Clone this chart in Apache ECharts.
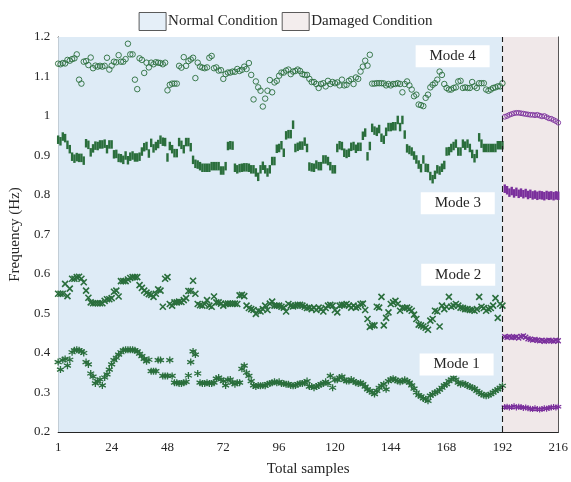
<!DOCTYPE html>
<html>
<head>
<meta charset="utf-8">
<style>
  html, body { margin: 0; padding: 0; background: #fff; }
  #chart { width: 571px; height: 482px; }
</style>
<script src="https://cdn.jsdelivr.net/npm/echarts@6/dist/echarts.min.js"></script>
</head>
<body>
<div id="chart"></div>
<script>
// Natural frequencies identified over the monitoring campaign (Hz)
const xTicks = [1, 24, 48, 72, 96, 120, 144, 168, 192, 216];
const lastNormalSample = 192;

const mode4Normal = [
  1.1325, 1.131, 1.134, 1.133, 1.142, 1.14, 1.144, 1.146, 1.156, 1.092,
  1.082, 1.1375, 1.139, 1.129, 1.148, 1.121, 1.1275, 1.125, 1.127, 1.125,
  1.127, 1.1475, 1.1175, 1.1275, 1.1375, 1.136, 1.154, 1.1375, 1.1375, 1.144,
  1.183, 1.156, 1.156, 1.092, 1.068, 1.146, 1.142, 1.109, 1.135, 1.123,
  1.135, 1.131, 1.136, 1.135, 1.134, 1.131, 1.135, 1.065, 1.079, 1.082,
  1.082, 1.082, 1.127, 1.1225, 1.149, 1.127, 1.139, 1.143,
  1.1475, 1.096, 1.135, 1.125, 1.1225, 1.121, 1.123, 1.1475, 1.152, 1.121,
  1.123, 1.115, 1.116, 1.094, 1.106, 1.11, 1.11, 1.1125, 1.112, 1.119,
  1.114, 1.117, 1.125, 1.119, 1.134, 1.104, 1.042, 1.0875, 1.0725, 1.064,
  1.024, 1.044, 1.064, 1.091, 1.06, 1.085, 1.089, 1.102, 1.11, 1.11,
  1.115, 1.1175, 1.106, 1.1125, 1.114, 1.1175, 1.114, 1.106, 1.104, 1.104,
  1.094, 1.086, 1.086, 1.081, 1.071, 1.081, 1.083, 1.075, 1.089, 1.081,
  1.086, 1.083, 1.085, 1.0775, 1.092, 1.0775, 1.079, 1.089, 1.093, 1.081,
  1.0975, 1.094, 1.1125, 1.125, 1.14, 1.1275, 1.155, 1.082, 1.082,
  1.083, 1.083, 1.083, 1.0825, 1.0775, 1.081, 1.0775, 1.081, 1.081, 1.083,
  1.081, 1.06, 1.081, 1.0875, 1.0775, 1.067, 1.05, 1.054, 1.029, 1.0275,
  1.025, 1.046, 1.054, 1.0725, 1.079, 1.083, 1.092, 1.1125, 1.104, 1.081,
  1.071, 1.067, 1.067, 1.071, 1.0725, 1.0875, 1.089, 1.071, 1.0725, 1.071,
  1.071, 1.086, 1.075, 1.071, 1.083, 1.083, 1.083, 1.067, 1.064, 1.067,
  1.071, 1.0725, 1.075, 1.075, 1.083
];
const mode4Damaged = [
  0.998, 1.0, 1.003, 1.005, 1.007, 1.008, 1.008, 1.007, 1.006, 1.005, 1.004, 1.003,
  1.003, 1.002, 1.003, 1.001, 0.999, 1.0, 0.997, 0.994, 0.993, 0.99, 0.987, 0.983
];

const mode3Normal = [
  0.94, 0.936, 0.948, 0.944, 0.927, 0.916, 0.897, 0.892, 0.896, 0.894,
  0.894, 0.887, 0.931, 0.927, 0.908, 0.918, 0.925, 0.924, 0.928, 0.928,
  0.93, 0.916, 0.928, 0.928, 0.903, 0.904, 0.894, 0.893, 0.889, 0.9,
  0.888, 0.897, 0.9, 0.895, 0.895, 0.897, 0.91, 0.921, 0.924, 0.905,
  0.932, 0.918, 0.924, 0.929, 0.94, 0.935, 0.934, 0.895, 0.924, 0.916,
  0.906, 0.906, 0.934, 0.927, 0.916, 0.934, 0.934, 0.921, 0.889, 0.879,
  0.877, 0.873, 0.869, 0.869, 0.869, 0.869, 0.873, 0.873, 0.873, 0.873,
  0.862, 0.862, 0.873, 0.924, 0.926, 0.925, 0.869, 0.865, 0.868, 0.869,
  0.87, 0.87, 0.869, 0.865, 0.865, 0.857, 0.846, 0.865, 0.874, 0.865,
  0.857, 0.865, 0.886, 0.886, 0.917, 0.919, 0.926, 0.907, 0.951, 0.954,
  0.954, 0.978, 0.919, 0.922, 0.925, 0.925, 0.935, 0.919, 0.872, 0.87,
  0.869, 0.877, 0.873, 0.873, 0.89, 0.89, 0.886, 0.873, 0.865, 0.865,
  0.919, 0.926, 0.924, 0.907, 0.904, 0.907, 0.922, 0.924, 0.917, 0.922,
  0.922, 0.95, 0.958, 0.898, 0.924, 0.97, 0.963, 0.96, 0.967, 0.945,
  0.94, 0.96, 0.972, 0.972, 0.974, 0.974, 0.99, 0.972, 0.99, 0.953,
  0.918, 0.914, 0.91, 0.9, 0.89, 0.877, 0.868, 0.89, 0.869, 0.868,
  0.848, 0.84, 0.851, 0.865, 0.862, 0.869, 0.876, 0.91, 0.911, 0.919,
  0.924, 0.93, 0.91, 0.91, 0.93, 0.925, 0.93, 0.919, 0.904, 0.893,
  0.904, 0.946, 0.93, 0.919, 0.919, 0.919, 0.919, 0.919, 0.919, 0.926,
  0.926, 0.926
];
const mode3Damaged = [
  0.816, 0.812, 0.806, 0.81, 0.804, 0.808, 0.803, 0.806, 0.802, 0.805, 0.8, 0.803,
  0.799, 0.801, 0.798, 0.8, 0.799, 0.797, 0.8, 0.798, 0.799, 0.797, 0.799, 0.798
];

const mode2Normal = [
  0.55, 0.55, 0.55, 0.575, 0.544, 0.563, 0.588, 0.588, 0.592, 0.593,
  0.588, 0.579, 0.558, 0.54, 0.528, 0.526, 0.526, 0.526, 0.526, 0.526,
  0.532, 0.536, 0.536, 0.539, 0.555, 0.558, 0.543, 0.582, 0.582, 0.582,
  0.586, 0.59, 0.592, 0.592, 0.592, 0.572, 0.565, 0.558, 0.553, 0.549,
  0.547, 0.542, 0.55, 0.561, 0.558, 0.517, 0.588, 0.592, 0.524, 0.52,
  0.528, 0.528, 0.53, 0.529, 0.534, 0.539, 0.557,
  0.557, 0.583, 0.55, 0.524, 0.521, 0.52, 0.524, 0.534, 0.52, 0.517,
  0.543, 0.528, 0.528, 0.525, 0.52, 0.524, 0.525, 0.525, 0.525, 0.525,
  0.524, 0.546, 0.547, 0.544, 0.52, 0.514, 0.511, 0.509, 0.499, 0.507,
  0.505, 0.511, 0.52, 0.509, 0.525, 0.53, 0.52, 0.52, 0.52, 0.517,
  0.515, 0.505, 0.524, 0.52, 0.518, 0.52, 0.522, 0.522, 0.52, 0.517,
  0.514, 0.515, 0.511, 0.515, 0.509, 0.515, 0.511, 0.505, 0.514, 0.52,
  0.522, 0.52, 0.509, 0.503, 0.52, 0.522, 0.522, 0.524, 0.52, 0.515,
  0.52, 0.515, 0.517, 0.524, 0.525, 0.509, 0.486, 0.466, 0.47, 0.47,
  0.517, 0.515, 0.542, 0.47, 0.489,
  0.503, 0.524, 0.528, 0.532, 0.524, 0.507, 0.515, 0.514, 0.515, 0.511,
  0.507, 0.497, 0.486, 0.472, 0.47, 0.467, 0.464, 0.459, 0.482, 0.486,
  0.507, 0.505, 0.467, 0.52, 0.511, 0.517, 0.542, 0.517, 0.52, 0.524,
  0.52, 0.515, 0.514, 0.511, 0.511, 0.509, 0.509, 0.507, 0.511, 0.542,
  0.517, 0.514, 0.507, 0.511, 0.514, 0.52, 0.539, 0.489, 0.524, 0.52
];
const mode2Damaged = [
  0.441, 0.44, 0.442, 0.439, 0.44, 0.441, 0.438, 0.442, 0.443, 0.44, 0.436, 0.435,
  0.433, 0.434, 0.432, 0.431, 0.432, 0.43, 0.431, 0.432, 0.431, 0.43, 0.432, 0.431
];

const mode1Normal = [
  0.377, 0.358, 0.382, 0.385, 0.368, 0.383, 0.402, 0.407, 0.408, 0.407,
  0.404, 0.4, 0.377, 0.371, 0.348, 0.34, 0.323, 0.329, 0.333, 0.318,
  0.338, 0.346, 0.358, 0.371, 0.382, 0.388, 0.396, 0.402, 0.407, 0.408,
  0.408, 0.408, 0.408, 0.407, 0.404, 0.398, 0.392, 0.385, 0.379, 0.383,
  0.354, 0.354, 0.354, 0.382, 0.382, 0.342, 0.342, 0.342, 0.382, 0.342,
  0.325, 0.325, 0.323, 0.323, 0.325, 0.327, 0.343,
  0.377, 0.404, 0.396, 0.348, 0.325, 0.323, 0.323, 0.325, 0.323, 0.323,
  0.325, 0.335, 0.338, 0.333, 0.329, 0.318, 0.332, 0.333, 0.325, 0.321,
  0.325, 0.325, 0.36, 0.368, 0.35, 0.342, 0.329, 0.318, 0.315, 0.318,
  0.317, 0.318, 0.317, 0.321, 0.323, 0.325, 0.327, 0.325, 0.327, 0.323,
  0.323, 0.321, 0.321, 0.318, 0.317, 0.318, 0.321, 0.323, 0.323, 0.325,
  0.329, 0.315, 0.315, 0.312, 0.315, 0.318, 0.321, 0.323, 0.327, 0.323,
  0.342, 0.312, 0.332, 0.332, 0.338, 0.34, 0.332, 0.329, 0.329, 0.333,
  0.329, 0.325, 0.323, 0.325, 0.321, 0.315, 0.308, 0.304, 0.3, 0.296,
  0.304, 0.312, 0.317, 0.321, 0.308,
  0.329, 0.333, 0.335, 0.332, 0.329, 0.327, 0.329, 0.332, 0.329, 0.325,
  0.318, 0.31, 0.3, 0.293, 0.29, 0.285, 0.283, 0.279, 0.292, 0.296,
  0.3, 0.302, 0.307, 0.312, 0.318, 0.321, 0.329, 0.333, 0.338, 0.333,
  0.325, 0.321, 0.323, 0.321, 0.317, 0.315, 0.312, 0.31, 0.304, 0.3,
  0.296, 0.293, 0.292, 0.293, 0.296, 0.3, 0.304, 0.308, 0.312, 0.317
];
const mode1Damaged = [
  0.263, 0.264, 0.262, 0.263, 0.265, 0.262, 0.264, 0.263, 0.261, 0.262, 0.26, 0.259,
  0.258, 0.26, 0.258, 0.257, 0.258, 0.26, 0.259, 0.261, 0.262, 0.263, 0.262, 0.264
];

const modeLabels = ['Mode 1', 'Mode 2', 'Mode 3', 'Mode 4'];

// ---- styling ----
const FONT = 'Liberation Serif';
const TXT = '#262626';
const GREEN = '#2a6e3c';
const PURPLE = '#7a2f9c';
const NORMAL_BG = '#deebf6';
const DAMAGED_BG = '#f0e8e9';

const CROSS = 'path://M0,0L10,10M10,0L0,10';
const ASTERISK = 'path://M5,0L5,10M0.67,2.5L9.33,7.5M0.67,7.5L9.33,2.5';

const normalPts = vals => vals.map((v, i) => [i + 1, v]);
const damagedPts = vals => vals.map((v, i) => [lastNormalSample + 1 + i, v]);

function circles(data, color, size) {
  return { type: 'scatter', data, symbol: 'circle', symbolSize: size, z: 3,
    itemStyle: { color: 'rgba(0,0,0,0)', borderColor: color, borderWidth: 0.9, opacity: 1 } };
}
function bars(data, color) {
  return { type: 'scatter', data, symbol: 'rect', symbolSize: [2.4, 8.5], z: 3,
    itemStyle: { color, opacity: 1 } };
}
function strokes(data, color, symbol, size, width) {
  return { type: 'scatter', data, symbol, symbolSize: size, z: 3,
    itemStyle: { color: 'rgba(0,0,0,0)', borderColor: color, borderWidth: width, opacity: 1 } };
}

function modeBox(text, x, y) {
  return {
    coord: [x, y], value: text, symbol: 'rect', symbolSize: [74, 22],
    itemStyle: { color: '#ffffff' },
    label: { show: true, position: 'inside', formatter: text, color: TXT, fontFamily: FONT, fontSize: 15 }
  };
}

const chart = echarts.init(document.getElementById('chart'), null, { renderer: 'canvas' });

const axisCommon = {
  axisLine: { show: true, onZero: false, lineStyle: { color: TXT, width: 1 } },
  splitLine: { show: false }
};

chart.setOption({
  animation: false,
  backgroundColor: '#ffffff',
  textStyle: { fontFamily: FONT },
  grid: { left: 55, top: 37, width: 509, height: 401, containLabel: false },
  legend: {
    left: 'center', top: 7, itemWidth: 27, itemHeight: 18, itemGap: 4,
    selectedMode: false,
    textStyle: { fontFamily: FONT, fontSize: 15, color: TXT, padding: [0, 0, 0, -3] },
    data: [
      { name: 'Normal Condition', icon: 'rect', itemStyle: { color: NORMAL_BG, borderColor: '#333', borderWidth: 1 } },
      { name: 'Damaged Condition', icon: 'rect', itemStyle: { color: DAMAGED_BG, borderColor: '#333', borderWidth: 1 } }
    ]
  },
  xAxis: [
    Object.assign({}, axisCommon, {
      type: 'value', min: 1, max: 216, position: 'bottom',
      name: 'Total samples', nameLocation: 'middle', nameGap: 30,
      nameTextStyle: { fontFamily: FONT, fontSize: 15, color: TXT },
      axisTick: { show: true, inside: true, length: 5, customValues: xTicks, lineStyle: { color: TXT } },
      axisLabel: { show: true, customValues: xTicks, margin: 9, fontFamily: FONT, fontSize: 13, color: TXT }
    }),
    Object.assign({}, axisCommon, {
      type: 'value', min: 1, max: 216, position: 'top',
      axisTick: { show: true, inside: true, length: 5, customValues: xTicks, lineStyle: { color: TXT } },
      axisLabel: { show: false }
    })
  ],
  yAxis: [
    Object.assign({}, axisCommon, {
      type: 'value', min: 0.2, max: 1.2, interval: 0.1, position: 'left',
      name: 'Frequency (Hz)', nameLocation: 'middle', nameGap: 29,
      nameTextStyle: { fontFamily: FONT, fontSize: 15, color: TXT },
      axisTick: { show: true, inside: true, length: 5, lineStyle: { color: TXT } },
      axisLabel: { margin: 8, fontFamily: FONT, fontSize: 13, color: TXT }
    }),
    Object.assign({}, axisCommon, {
      type: 'value', min: 0.2, max: 1.2, interval: 0.1, position: 'right',
      axisTick: { show: true, inside: true, length: 5, lineStyle: { color: TXT } },
      axisLabel: { show: false }
    })
  ],
  series: [
    { name: 'Normal Condition', type: 'scatter', data: [], z: -1,
      itemStyle: { color: NORMAL_BG },
      markArea: { silent: true, itemStyle: { color: NORMAL_BG },
        data: [[{ xAxis: 1 }, { xAxis: lastNormalSample }]] } },
    { name: 'Damaged Condition', type: 'scatter', data: [], z: -1,
      itemStyle: { color: DAMAGED_BG },
      markArea: { silent: true, itemStyle: { color: DAMAGED_BG },
        data: [[{ xAxis: lastNormalSample }, { xAxis: 216 }]] } },

    circles(normalPts(mode4Normal), GREEN, 5.5),
    circles(damagedPts(mode4Damaged), PURPLE, 4.8),
    bars(normalPts(mode3Normal), GREEN),
    bars(damagedPts(mode3Damaged), PURPLE),
    strokes(normalPts(mode2Normal), GREEN, CROSS, 6, 1.6),
    strokes(damagedPts(mode2Damaged), PURPLE, CROSS, 5, 1.4),
    strokes(normalPts(mode1Normal), GREEN, ASTERISK, 7, 1.3),
    strokes(damagedPts(mode1Damaged), PURPLE, ASTERISK, 6, 1.2),

    { type: 'scatter', data: [], z: 5,
      markLine: { silent: true, symbol: 'none', label: { show: false },
        lineStyle: { color: '#1a1a1a', type: [6, 4], width: 1.1 },
        data: [{ xAxis: lastNormalSample }] },
      markPoint: { silent: true,
        data: [
          modeBox(modeLabels[3], 170.6, 1.151),
          modeBox(modeLabels[2], 172.8, 0.779),
          modeBox(modeLabels[1], 173.0, 0.598),
          modeBox(modeLabels[0], 172.3, 0.371)
        ] } }
  ]
});
</script>
</body>
</html>
